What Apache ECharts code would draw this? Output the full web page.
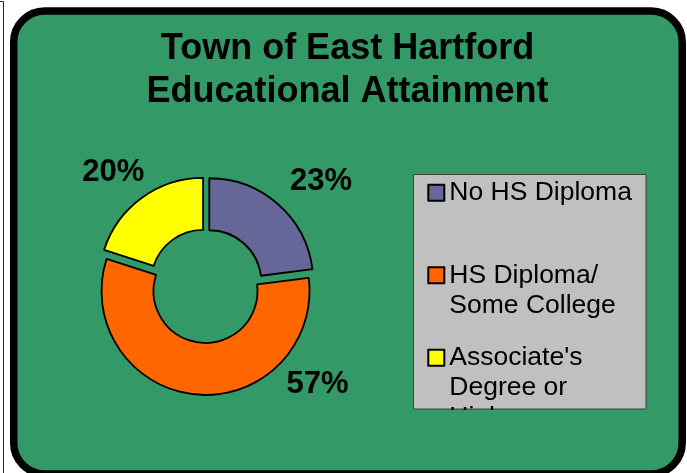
<!DOCTYPE html>
<html>
<head>
<meta charset="utf-8">
<script src="https://cdn.jsdelivr.net/npm/echarts@6/dist/echarts.min.js"></script>
<style>
  html, body { margin: 0; padding: 0; background: #ffffff; }
  #chart { width: 687px; height: 473px; }
</style>
</head>
<body>
<div id="chart"></div>
<script>
// ---- data ----
const titleLines = ['Town of East Hartford', 'Educational Attainment'];
const categories = ['No HS Diploma', 'HS Diploma/ Some College', "Associate's Degree or Higher"];
const legendLines = [['No HS Diploma'], ['HS Diploma/', 'Some College'], ["Associate's", 'Degree or', 'Higher']];
const values = [23, 57, 20];

// ---- styles / layout ----
const colors = ['#666699', '#FF6600', '#FFFF00'];
const cardGreen = '#339966';
const labelPos = [[321, 181.5], [317.5, 384.5], [113.3, 172]];
const legendLineHeight = 30;
const legendItemBox = 5 * legendLineHeight;   // fixed item box height
const legendPitch = 82.5;
const legendFirstCenter = 192.7;
const fontFamily = 'Liberation Sans, Arial, sans-serif';

const chart = echarts.init(document.getElementById('chart'), null, { renderer: 'canvas' });

const labelTexts = values.map(function (v, i) {
  return {
    type: 'text',
    z: 50,
    style: {
      text: v + '%',
      x: labelPos[i][0],
      y: labelPos[i][1],
      align: 'center',
      verticalAlign: 'middle',
      fontFamily: fontFamily,
      fontSize: 31,
      fontWeight: 'bold',
      fill: '#000'
    }
  };
});

chart.setOption({
  animation: false,
  backgroundColor: '#ffffff',
  color: colors,
  graphic: [
    {
      type: 'polyline',
      z: 0,
      shape: { points: [[0, 1.5], [3.5, 1.5], [3.5, 473]] },
      style: { stroke: '#222', lineWidth: 1, fill: null }
    },
    {
      type: 'rect',
      z: 0,
      shape: { x: 13.7, y: 11, width: 668.5, height: 463, r: 31 },
      style: { fill: cardGreen, stroke: '#000', lineWidth: 7.5 }
    },
    {
      type: 'rect',
      z: 1,
      shape: { x: 413.5, y: 174.5, width: 232.5, height: 234.5 },
      style: { fill: '#C0C0C0', stroke: '#404040', lineWidth: 1 }
    },
    {
      type: 'rect',
      z: 100,
      shape: { x: 411, y: 410, width: 238, height: 24 },
      style: { fill: cardGreen }
    }
  ].concat(labelTexts),
  title: {
    text: titleLines.join('\n'),
    left: 347.5,
    top: 27.5,
    padding: 0,
    textAlign: 'center',
    textStyle: {
      fontFamily: fontFamily,
      fontSize: 36,
      fontWeight: 'bold',
      lineHeight: 43,
      color: '#000'
    }
  },
  legend: {
    orient: 'vertical',
    left: 427.3,
    top: legendFirstCenter - legendItemBox / 2,
    padding: 0,
    itemGap: legendPitch - legendItemBox,
    itemWidth: 16,
    itemHeight: 16,
    icon: 'rect',
    selectedMode: false,
    itemStyle: { borderColor: '#000', borderWidth: 2 },
    data: categories.map(function (name, i) {
      const n = legendLines[i].length;
      const p = (legendItemBox - (2 * n - 1) * legendLineHeight) / 2;
      return { name: name, textStyle: { padding: [p, 0, p, 0] } };
    }),
    formatter: function (name) {
      const lines = legendLines[categories.indexOf(name)];
      const pad = [];
      for (let k = 1; k < lines.length; k++) pad.push('');
      return pad.concat(lines).join('\n');
    },
    textStyle: {
      fontFamily: fontFamily,
      fontSize: 26.5,
      color: '#000',
      lineHeight: legendLineHeight
    }
  },
  series: [{
    type: 'pie',
    center: [206, 286],
    radius: [52, 104],
    startAngle: 90,
    clockwise: true,
    selectedMode: 'multiple',
    selectedOffset: 5,
    avoidLabelOverlap: false,
    itemStyle: { borderColor: '#000', borderWidth: 1.8 },
    emphasis: { disabled: true },
    label: { show: false },
    labelLine: { show: false },
    data: categories.map(function (name, i) {
      return { name: name, value: values[i], selected: true };
    })
  }]
});
</script>
</body>
</html>
